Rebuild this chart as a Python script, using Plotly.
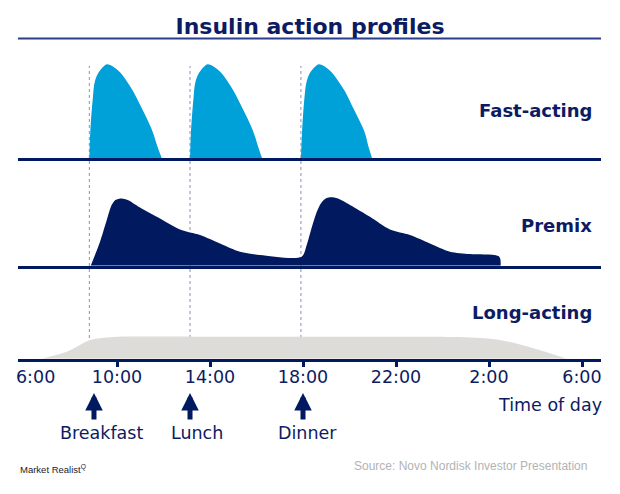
import plotly.graph_objects as go

# ---------------- data ----------------
tick_labels = ["6:00", "10:00", "14:00", "18:00", "22:00", "2:00", "6:00"]
tick_hours = [6.5, 10, 14, 18, 22, 26, 30]
tick_mark_hours = [10, 14, 18, 22, 26, 30]

meal_names = ["Breakfast", "Lunch", "Dinner"]
meal_line_hours = [8.81, 13.14, 17.91]
meal_arrow_hours = [9.01, 13.14, 18.0]
meal_label_hours = [9.34, 13.43, 18.19]

panel_names = ["Fast-acting", "Premix", "Long-acting"]

fast_values = [0, 28, 64, 82, 92, 99, 100, 97.5, 91.5, 82, 71, 57, 42.5, 26.5, 14, 0]
fast_t1 = [8.81, 8.85, 8.96, 9.05, 9.23, 9.48, 9.58, 9.84, 10.13, 10.42, 10.70, 10.99, 11.28, 11.56, 11.72, 11.93]
fast_t2 = [13.14, 13.18, 13.29, 13.38, 13.56, 13.81, 13.91, 14.17, 14.46, 14.75, 15.03, 15.32, 15.61, 15.89, 16.05, 16.24]
fast_t3 = [17.91, 17.96, 18.06, 18.16, 18.33, 18.59, 18.69, 18.95, 19.23, 19.52, 19.81, 20.09, 20.38, 20.67, 20.80, 20.97]

premix_t = [8.87, 9.27, 9.56, 9.77, 9.93, 10.20, 10.46, 10.99, 11.85, 12.71, 13.57, 14.43, 15.29, 16.15, 17.94,
            18.16, 18.37, 18.59, 18.76, 18.95, 19.16, 19.50, 20.02, 20.88, 21.74, 22.60, 23.46, 24.32, 25.18,
            26.44, 26.50]
premix_v = [0, 25.5, 48.6, 64.5, 70.0, 71.6, 70.0, 62.0, 50.3, 38.6, 32.7, 23.7, 14.9, 11.4, 9.6,
            22.0, 40.0, 57.0, 66.0, 71.0, 72.7, 71.4, 64.6, 52.1, 38.6, 32.7, 23.7, 14.9, 12.4,
            9.6, 0]

long_t = [6.76, 7.84, 8.84, 9.70, 10.13, 14.0, 18.0, 22.0, 25.04, 26.47, 27.91, 29.34]
long_v = [0, 7.4, 19.9, 22.8, 23.4, 23.4, 23.4, 23.4, 22.8, 19.9, 11.1, 0]

# ---------------- style ----------------
NAVY = "#00195f"
TEXT_NAVY = "#0d1b63"
FAST = "#00a0d8"
GREY = "#dddcd8"
FONT = "DejaVu Sans"
W, H = 620, 494
L, R = 18, 19
XR = [5.742, 30.817]


def py(p):
    return 1 - p / H


def px(p):
    return (p - L) / (W - L - R)


fig = go.Figure()

for t in (fast_t1, fast_t2, fast_t3):
    fig.add_trace(go.Scatter(x=t, y=fast_values, mode="lines", fill="tozeroy",
                             fillcolor=FAST, line=dict(width=0, shape="spline", smoothing=1.0),
                             xaxis="x", yaxis="y", hoverinfo="skip", showlegend=False))

fig.add_trace(go.Scatter(x=premix_t, y=premix_v, mode="lines", fill="tozeroy",
                         fillcolor=NAVY, line=dict(width=0, shape="spline", smoothing=0.8),
                         xaxis="x2", yaxis="y2", hoverinfo="skip", showlegend=False))

fig.add_trace(go.Scatter(x=long_t, y=long_v, mode="lines", fill="tozeroy",
                         fillcolor=GREY, line=dict(width=0, shape="spline", smoothing=0.8),
                         xaxis="x3", yaxis="y3", hoverinfo="skip", showlegend=False))

xbase = dict(range=XR, domain=[0, 1], showgrid=False, zeroline=False, showline=True,
             linewidth=3, linecolor=NAVY, fixedrange=True)

fig.update_layout(
    width=W, height=H,
    margin=dict(l=L, r=R, t=0, b=0),
    paper_bgcolor="white", plot_bgcolor="rgba(0,0,0,0)",
    xaxis=dict(xbase, anchor="y", showticklabels=False, ticks=""),
    xaxis2=dict(xbase, anchor="y2", showticklabels=False, ticks=""),
    xaxis3=dict(xbase, anchor="y3", tickmode="array", tickvals=tick_hours, ticktext=tick_labels,
                ticks="", tickfont=dict(family=FONT, size=17.5, color=TEXT_NAVY),
                minor=dict(tickmode="array", tickvals=tick_mark_hours, ticks="outside",
                           ticklen=5, tickwidth=3, tickcolor=NAVY)),
    yaxis=dict(domain=[py(158.3), py(55)], range=[0, 103.3 / 0.94], visible=False, fixedrange=True),
    yaxis2=dict(domain=[py(265.7), py(180)], range=[0, 85.7 / 0.94], visible=False, fixedrange=True),
    yaxis3=dict(domain=[py(358.7), py(280)], range=[0, 78.7 / 0.94], visible=False, fixedrange=True),
    title=dict(text="<b>Insulin action profiles</b>", x=0.5, xref="container", xanchor="center",
               y=py(26), yref="container", yanchor="middle",
               font=dict(family=FONT, size=22, color=TEXT_NAVY)),
)

# title rule
fig.add_shape(type="line", xref="paper", yref="paper", x0=0, x1=1, y0=py(38.5), y1=py(38.5),
              line=dict(color="#2b3d8c", width=2))

# meal dotted lines
for h in meal_line_hours:
    fig.add_shape(type="line", xref="x3", yref="paper", x0=h, x1=h, y0=py(338), y1=py(66),
                  line=dict(color="#8592bd", width=1, dash="dot"), layer="below")

# panel labels
for name, yp in zip(panel_names, [110, 225, 312]):
    fig.add_annotation(text="<b>%s</b>" % name, xref="paper", yref="paper", x=px(594), y=py(yp),
                       xanchor="right", yanchor="middle", showarrow=False,
                       font=dict(family=FONT, size=18, color=TEXT_NAVY))

# meal arrows and labels
for name, ha, hl in zip(meal_names, meal_arrow_hours, meal_label_hours):
    fig.add_annotation(text="", xref="x3", yref="paper", x=ha, y=py(393), ax=0, ay=28,
                       showarrow=True, arrowhead=2, arrowsize=0.7, arrowwidth=5, arrowcolor=NAVY)
    fig.add_annotation(text=name, xref="x3", yref="paper", x=hl, y=py(433), showarrow=False,
                       xanchor="center", yanchor="middle",
                       font=dict(family=FONT, size=17.5, color=TEXT_NAVY))

fig.add_annotation(text="Time of day", xref="paper", yref="paper", x=px(604), y=py(405),
                   xanchor="right", yanchor="middle", showarrow=False,
                   font=dict(family=FONT, size=17.5, color=TEXT_NAVY))

fig.add_annotation(text="Source: Novo Nordisk Investor Presentation", xref="paper", yref="paper",
                   x=px(589), y=py(466), xanchor="right", yanchor="middle", showarrow=False,
                   font=dict(family="Liberation Sans", size=12, color="#b3b3b3"))

fig.add_annotation(text="Market Realist<sup>Q</sup>", xref="paper", yref="paper",
                   x=px(18), y=py(469), xanchor="left", yanchor="middle", showarrow=False,
                   font=dict(family="Liberation Sans Narrow, Liberation Sans", size=9.5, color="#222222"))

fig.write_html("out.html")
